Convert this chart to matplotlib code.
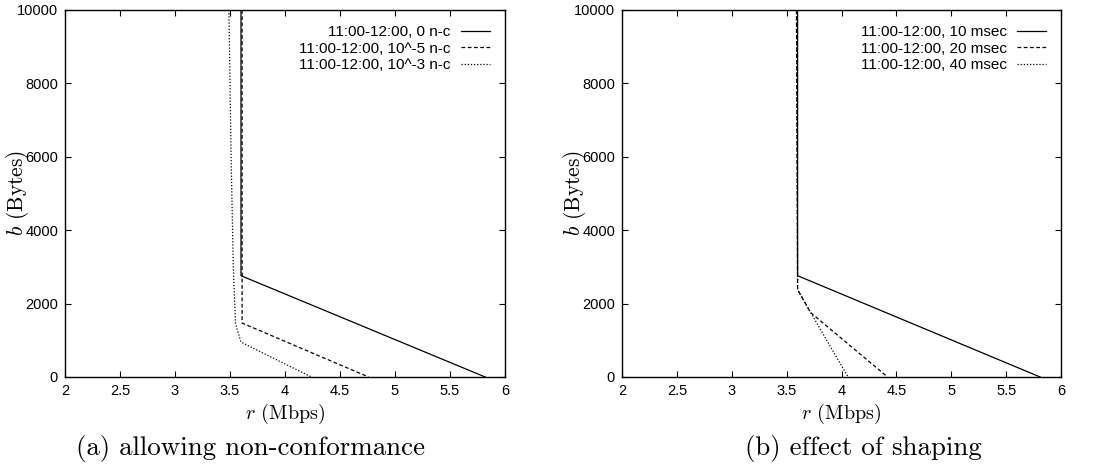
import matplotlib
matplotlib.use("Agg")
import matplotlib.pyplot as plt
from matplotlib.ticker import MultipleLocator

plt.rcParams['mathtext.fontset'] = 'cm'
plt.rcParams['font.family'] = ['Liberation Sans', 'DejaVu Sans']

# Panel (a): allowing non-conformance
a_labels = ["11:00-12:00, 0 n-c", "11:00-12:00, 10^-5 n-c", "11:00-12:00, 10^-3 n-c"]
a0_r = [3.60, 3.60, 5.82]
a0_b = [10000, 2760, 0]
a1_r = [3.61, 3.61, 3.61, 4.76]
a1_b = [10000, 2760, 1470, 0]
a2_r = [3.49, 3.51, 3.53, 3.55, 3.60, 4.24]
a2_b = [10000, 6000, 3000, 1450, 950, 0]

# Panel (b): effect of shaping
b_labels = ["11:00-12:00, 10 msec", "11:00-12:00, 20 msec", "11:00-12:00, 40 msec"]
b0_r = [3.60, 3.60, 5.81]
b0_b = [10000, 2760, 0]
b1_r = [3.59, 3.60, 3.72, 4.42]
b1_b = [10000, 2380, 1750, 0]
b2_r = [3.59, 3.60, 3.72, 4.06]
b2_b = [10000, 2380, 1750, 0]

x_ticks = [2, 2.5, 3, 3.5, 4, 4.5, 5, 5.5, 6]
x_tick_labels = ["2", "2.5", "3", "3.5", "4", "4.5", "5", "5.5", "6"]

fig = plt.figure(figsize=(11.05, 4.68), dpi=100)
W, H = 1105, 468

def make_axes(left_px, right_px):
    return fig.add_axes([left_px / W, 1 - 377 / H, (right_px - left_px) / W, (377 - 10) / H])

axA = make_axes(65, 505)
axB = make_axes(622, 1061)

styles = [dict(ls='-'), dict(ls=(0, (3, 2))), dict(ls=(0, (1, 1.5)))]

def setup(ax, series, labels, caption, cx):
    for (r, b), lab, st in zip(series, labels, styles):
        ax.plot(r, b, color='black', lw=0.9, label=lab, **st)
    ax.set_xlim(2, 6)
    ax.set_ylim(0, 10000)
    ax.yaxis.set_major_locator(MultipleLocator(2000))
    ax.set_xticks(x_ticks)
    ax.set_xticklabels(x_tick_labels)
    ax.tick_params(direction='in', top=True, right=True, length=4, width=0.8,
                   labelsize=10.5, pad=5)
    for s in ax.spines.values():
        s.set_linewidth(1.0)
    ax.set_xlabel(r"$r$ (Mbps)", fontname='cmr10', fontsize=14.5, labelpad=3)
    ax.set_ylabel(r"$b$ (Bytes)", fontname='cmr10', fontsize=15.5, labelpad=-10)
    ax.legend(loc='upper right', frameon=False, markerfirst=False,
              fontsize=11, handlelength=1.9, handletextpad=0.65,
              labelspacing=0.15, borderaxespad=0.6)
    fig.text(cx / W, 1 - 448 / H, caption, fontname='cmr10', fontsize=19.4,
             ha='center', va='center')

setup(axA, [(a0_r, a0_b), (a1_r, a1_b), (a2_r, a2_b)], a_labels,
      "(a) allowing non-conformance", 251)
setup(axB, [(b0_r, b0_b), (b1_r, b1_b), (b2_r, b2_b)], b_labels,
      "(b) effect of shaping", 863)

fig.savefig("out.png", dpi=100)
